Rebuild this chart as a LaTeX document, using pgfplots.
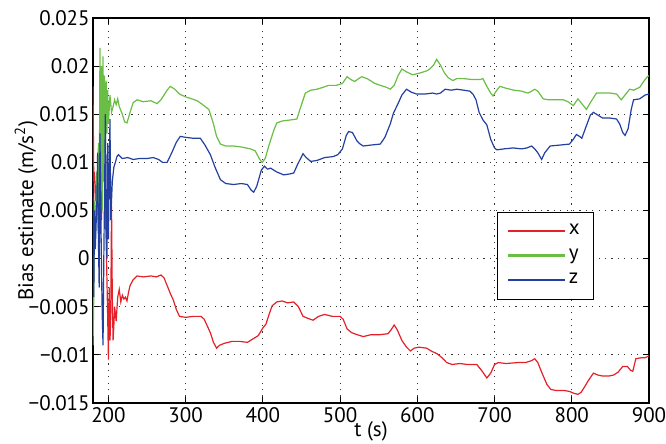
\documentclass[border=0pt]{standalone}
\usepackage{fontspec}
\setmainfont{PT Sans}
\usepackage{pgfplots}
\pgfplotsset{compat=1.18}

\definecolor{cx}{rgb}{0.894,0.125,0.157}
\definecolor{cy}{rgb}{0.416,0.745,0.271}
\definecolor{cz}{rgb}{0.137,0.251,0.627}

\begin{document}
\begin{tikzpicture}
\useasboundingbox (-46.5pt,-20.5pt) rectangle (286.5pt,201.5pt);
\begin{axis}[%
at={(0pt,0pt)}, anchor=south west,
width=278pt,
height=192.5pt,
scale only axis,
xmin=180, xmax=900,
ymin=-0.015, ymax=0.025,
scaled ticks=false,
xtick={200,300,400,500,600,700,800,900},
xticklabels={200,300,400,500,600,700,800,900},
ytick={-0.015,-0.01,-0.005,0,0.005,0.01,0.015,0.02,0.025},
yticklabels={−0.015,−0.01,−0.005,0,0.005,0.01,0.015,0.02,0.025},
tick label style={font=\fontsize{10.5}{12}\selectfont},
yticklabel style={inner xsep=1.5pt},
xticklabel style={inner ysep=2pt},
label style={font=\fontsize{10.5}{12}\selectfont},
xlabel={t (s)},
ylabel={Bias estimate (m/s\textsuperscript{2})},
xlabel style={yshift=6pt},
ylabel style={yshift=-9.5pt},
tick align=inside,
major tick length=3pt,
tick style={black, line width=0.5pt},
axis line style={black, line width=0.6pt},
grid=major,
major grid style={black!80, line width=0.5pt, dash pattern=on 0.6pt off 2.6pt},
legend style={at={(0.727,0.496)}, anchor=north west, draw=black,
  font=\fontsize{10.5}{12}\selectfont, legend cell align=left,
  row sep=1.5pt, inner xsep=5pt, inner ysep=4pt},
]
\addplot[cx, line width=0.6pt,
  legend image code/.code={\fill[cx] (0pt,-0.35pt) rectangle (28pt,0.35pt);}]
  table[row sep=crcr] {%
x y\\
180 0.0179\\ 181 0.0080\\ 182 0.0090\\ 183 0.0060\\ 185 0.0085\\ 187 0.0030\\
189 0.0100\\ 191 0.0040\\ 193 0.0110\\ 195 0.0075\\ 197 0.0020\\ 199 -0.0060\\
200 -0.0105\\ 201 -0.0030\\ 202 -0.0085\\ 203 -0.0060\\ 204 0.0055\\ 205 -0.0040\\
206 -0.0085\\ 207 -0.0070\\ 208 -0.0050\\ 210 -0.0065\\ 212 -0.0040\\ 214 -0.0032\\
216 -0.0045\\ 218 -0.0038\\ 220 -0.0042\\ 222 -0.0040\\ 224 -0.0044\\ 226 -0.0035\\
228 -0.0028\\ 232 -0.0022\\ 237 -0.0018\\ 245 -0.0019\\ 255 -0.0018\\ 262 -0.0019\\
268 -0.0017\\ 272 -0.0020\\ 276 -0.0028\\ 280 -0.0036\\ 284 -0.0043\\ 288 -0.0053\\
292 -0.0060\\ 300 -0.0061\\ 310 -0.0060\\ 320 -0.0060\\ 324 -0.0063\\ 328 -0.0070\\
332 -0.0077\\ 336 -0.0087\\ 340 -0.0093\\ 344 -0.0090\\ 350 -0.0088\\ 360 -0.0086\\
370 -0.0086\\ 380 -0.0087\\ 388 -0.0083\\ 394 -0.0080\\ 400 -0.0072\\ 404 -0.0068\\
408 -0.0058\\ 412 -0.0049\\ 418 -0.0045\\ 425 -0.0044\\ 432 -0.0046\\ 440 -0.0045\\
446 -0.0050\\ 452 -0.0060\\ 458 -0.0062\\ 465 -0.0064\\ 472 -0.0060\\ 480 -0.0058\\
490 -0.0060\\ 500 -0.0060\\ 504 -0.0063\\ 509 -0.0073\\ 515 -0.0077\\ 522 -0.0079\\
530 -0.0081\\ 540 -0.0079\\ 552 -0.0079\\ 562 -0.0078\\ 566 -0.0074\\ 570 -0.0069\\
574 -0.0074\\ 580 -0.0085\\ 586 -0.0092\\ 591 -0.0096\\ 596 -0.0093\\ 602 -0.0092\\
612 -0.0093\\ 618 -0.0096\\ 626 -0.0099\\ 632 -0.0103\\ 638 -0.0108\\ 645 -0.0110\\
655 -0.0109\\ 665 -0.0110\\ 677 -0.0110\\ 684 -0.0117\\ 690 -0.0124\\ 695 -0.0119\\
700 -0.0110\\ 705 -0.0108\\ 715 -0.0109\\ 730 -0.0108\\ 740 -0.0108\\ 748 -0.0106\\
752 -0.0104\\ 756 -0.0108\\ 762 -0.0120\\ 768 -0.0131\\ 773 -0.0136\\ 780 -0.0137\\
790 -0.0137\\ 797 -0.0138\\ 803 -0.0140\\ 808 -0.0141\\ 812 -0.0139\\ 816 -0.0134\\
822 -0.0126\\ 828 -0.0119\\ 834 -0.0121\\ 840 -0.0122\\ 848 -0.0122\\ 854 -0.0121\\
860 -0.0118\\ 866 -0.0112\\ 872 -0.0112\\ 876 -0.0116\\ 879 -0.0117\\ 883 -0.0104\\
890 -0.0103\\ 895 -0.0103\\ 900 -0.0101\\
};
\addlegendentry{x}

\addplot[cy, line width=0.6pt,
  legend image code/.code={\fill[cy] (0pt,-0.35pt) rectangle (28pt,0.35pt);}]
  table[row sep=crcr] {%
x y\\
180 -0.0090\\ 181 -0.0040\\ 182 0.0060\\ 183 0.0020\\ 185 0.0090\\ 186 0.0040\\
187 0.0120\\ 188 0.0030\\ 189 0.0219\\ 190 0.0070\\ 191 0.0200\\ 192 0.0050\\
193 0.0210\\ 194 0.0080\\ 195 0.0190\\ 196 0.0110\\ 197 0.0185\\ 198 0.0130\\
199 0.0175\\ 200 0.0140\\ 202 0.0170\\ 204 0.0152\\ 206 0.0158\\ 208 0.0165\\
210 0.0160\\ 212 0.0166\\ 214 0.0158\\ 218 0.0150\\ 221 0.0142\\ 224 0.0141\\
228 0.0152\\ 232 0.0162\\ 237 0.0165\\ 245 0.0163\\ 255 0.0164\\ 263 0.0161\\
268 0.0165\\ 272 0.0170\\ 276 0.0175\\ 280 0.0179\\ 286 0.0176\\ 292 0.0171\\
300 0.0168\\ 308 0.0166\\ 315 0.0164\\ 322 0.0160\\ 330 0.0155\\ 336 0.0140\\
340 0.0127\\ 345 0.0119\\ 352 0.0117\\ 362 0.0117\\ 372 0.0116\\ 384 0.0114\\
390 0.0112\\ 396 0.0103\\ 399 0.0100\\ 403 0.0104\\ 408 0.0118\\ 414 0.0133\\
418 0.0141\\ 425 0.0143\\ 435 0.0144\\ 444 0.0145\\ 450 0.0160\\ 455 0.0172\\
462 0.0175\\ 470 0.0176\\ 478 0.0178\\ 485 0.0180\\ 495 0.0180\\ 503 0.0182\\
509 0.0189\\ 514 0.0186\\ 519 0.0184\\ 524 0.0187\\ 528 0.0189\\ 535 0.0187\\
545 0.0182\\ 552 0.0180\\ 560 0.0178\\ 565 0.0176\\ 570 0.0180\\ 575 0.0190\\
580 0.0197\\ 586 0.0194\\ 594 0.0191\\ 604 0.0193\\ 612 0.0195\\ 616 0.0197\\
621 0.0201\\ 625 0.0207\\ 630 0.0201\\ 635 0.0193\\ 640 0.0188\\ 646 0.0185\\
651 0.0187\\ 660 0.0187\\ 672 0.0186\\ 681 0.0186\\ 685 0.0187\\ 690 0.0179\\
695 0.0172\\ 698 0.0169\\ 703 0.0175\\ 707 0.0179\\ 715 0.0177\\ 725 0.0175\\
735 0.0174\\ 743 0.0172\\ 746 0.0173\\ 752 0.0176\\ 756 0.0174\\ 763 0.0166\\
770 0.0165\\ 780 0.0165\\ 789 0.0165\\ 795 0.0163\\ 802 0.0159\\ 808 0.0166\\
813 0.0161\\ 819 0.0155\\ 824 0.0162\\ 832 0.0172\\ 840 0.0172\\ 850 0.0172\\
858 0.0171\\ 864 0.0165\\ 869 0.0170\\ 875 0.0176\\ 880 0.0175\\ 888 0.0178\\
893 0.0184\\ 898 0.0189\\ 900 0.0190\\
};
\addlegendentry{y}

\addplot[cz, line width=0.6pt,
  legend image code/.code={\fill[cz] (0pt,-0.35pt) rectangle (28pt,0.35pt);}]
  table[row sep=crcr] {%
x y\\
180 0.0090\\ 181 -0.0040\\ 182 0.0050\\ 183 0.0010\\ 185 0.0060\\ 186 0.0110\\
187 0.0020\\ 188 -0.0030\\ 189 0.0130\\ 190 0.0060\\ 191 -0.0010\\ 192 -0.0060\\
193 -0.0090\\ 194 0.0000\\ 195 0.0070\\ 196 0.0150\\ 197 0.0040\\ 198 0.0000\\
199 0.0120\\ 200 0.0020\\ 201 0.0090\\ 202 0.0145\\ 203 0.0040\\ 204 0.0060\\
205 0.0080\\ 207 0.0095\\ 209 0.0100\\ 211 0.0106\\ 213 0.0108\\ 218 0.0104\\
225 0.0105\\ 232 0.0103\\ 240 0.0104\\ 250 0.0104\\ 258 0.0105\\ 265 0.0103\\
270 0.0100\\ 276 0.0100\\ 282 0.0110\\ 288 0.0121\\ 293 0.0127\\ 300 0.0126\\
310 0.0125\\ 319 0.0125\\ 325 0.0118\\ 332 0.0108\\ 338 0.0095\\ 345 0.0082\\
352 0.0078\\ 362 0.0077\\ 372 0.0078\\ 380 0.0077\\ 385 0.0071\\ 388 0.0069\\
392 0.0075\\ 398 0.0092\\ 402 0.0096\\ 406 0.0093\\ 410 0.0094\\ 418 0.0090\\
427 0.0087\\ 435 0.0088\\ 440 0.0089\\ 445 0.0098\\ 452 0.0109\\ 456 0.0105\\
462 0.0101\\ 470 0.0102\\ 480 0.0105\\ 491 0.0106\\ 497 0.0108\\ 503 0.0114\\
508 0.0128\\ 511 0.0132\\ 516 0.0131\\ 522 0.0122\\ 526 0.0119\\ 530 0.0117\\
540 0.0118\\ 552 0.0119\\ 558 0.0126\\ 565 0.0140\\ 569 0.0151\\ 575 0.0161\\
580 0.0170\\ 586 0.0176\\ 592 0.0173\\ 599 0.0171\\ 610 0.0171\\ 620 0.0172\\
625 0.0171\\ 630 0.0172\\ 636 0.0176\\ 644 0.0175\\ 651 0.0176\\ 660 0.0175\\
668 0.0174\\ 672 0.0171\\ 676 0.0165\\ 680 0.0152\\ 685 0.0144\\ 690 0.0139\\
695 0.0124\\ 700 0.0115\\ 703 0.0113\\ 712 0.0114\\ 724 0.0115\\ 735 0.0114\\
742 0.0115\\ 748 0.0117\\ 752 0.0114\\ 756 0.0110\\ 761 0.0103\\ 765 0.0110\\
772 0.0117\\ 785 0.0118\\ 797 0.0119\\ 802 0.0124\\ 806 0.0129\\ 810 0.0127\\
813 0.0125\\ 818 0.0136\\ 824 0.0149\\ 828 0.0152\\ 834 0.0149\\ 840 0.0146\\
850 0.0146\\ 858 0.0145\\ 862 0.0140\\ 866 0.0131\\ 869 0.0128\\ 873 0.0135\\
877 0.0155\\ 880 0.0165\\ 888 0.0166\\ 895 0.0170\\ 900 0.0171\\
};
\addlegendentry{z}
\end{axis}
\end{tikzpicture}
\end{document}
